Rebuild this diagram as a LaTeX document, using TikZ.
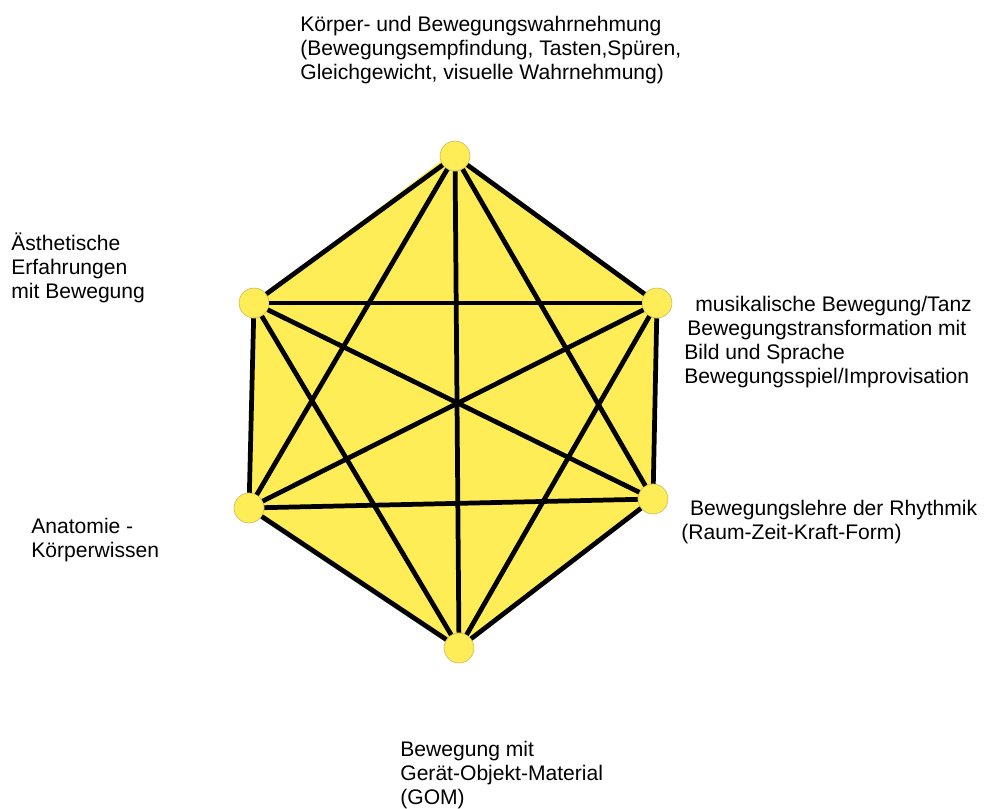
\documentclass[tikz,border=0pt]{standalone}
\usepackage{fontspec}
\setmainfont{Liberation Sans}
\usepackage{tikz}
\usetikzlibrary{backgrounds}
\definecolor{hexyellow}{RGB}{255,237,87}
\definecolor{dotrim}{RGB}{205,192,95}
\tikzstyle{vertex}=[circle, fill=hexyellow, draw=dotrim, line width=0.4pt, inner sep=0pt, minimum size=17pt]
\tikzstyle{edge}=[line width=2.7pt]
\tikzstyle{lbl}=[anchor=base west, inner sep=0pt, align=left, font=\fontsize{12}{13.6}\selectfont]

\begin{document}
\begin{tikzpicture}[x=0.02cm, y=-0.02cm]
        \useasboundingbox (0,0) rectangle (986,808);
        \node[vertex] (P1) at (455,156) {};
        \node[vertex] (P2) at (657,303) {};
        \node[vertex] (P3) at (653,499) {};
        \node[vertex] (P4) at (459,648) {};
        \node[vertex] (P5) at (249,508) {};
        \node[vertex] (P6) at (254,303) {};
        \begin{pgfonlayer}{background}
            \fill[hexyellow] (P1.center) ++(-2,-4) -- (P2.center) -- (P3.center) -- (P4.center) -- (P5.center) -- (P6.center) ++(-4,-3) -- cycle;
        \end{pgfonlayer}
        % outline
        \draw[edge] (P1) -- (P2);
        \draw[edge] (P2) -- (P3);
        \draw[edge] (P3) -- (P4);
        \draw[edge] (P4) -- (P5);
        \draw[edge] (P5) -- (P6);
        \draw[edge] (P6) -- (P1);
        % diagonals
        \draw[edge] (P1) -- (P3);
        \draw[edge] (P1) -- (P4);
        \draw[edge] (P1) -- (P5);
        \draw[edge] (P2) -- (P4);
        \draw[edge] (P2) -- (P5);
        \draw[edge] (P2) -- (P6);
        \draw[edge] (P3) -- (P5);
        \draw[edge] (P3) -- (P6);
        \draw[edge] (P4) -- (P6);
        % labels (anchored at the last line)
        \node[lbl] (koerper) at (300,79) {Körper- und Bewegungswahrnehmung\\(Bewegungsempfindung, Tasten,Spüren,\\Gleichgewicht, visuelle Wahrnehmung)};
        \node[lbl] (musik) at (684,383) {\hspace*{6.2pt}musikalische Bewegung/Tanz\\\hspace*{1.7pt}Bewegungstransformation mit\\Bild und Sprache\\Bewegungsspiel/Improvisation};
        \node[lbl] (rhythmik) at (681,539) {\hspace*{5pt}Bewegungslehre der Rhythmik\\(Raum-Zeit-Kraft-Form)};
        \node[lbl] (gom) at (400,804) {Bewegung mit\\Gerät-Objekt-Material\\(GOM)};
        \node[lbl] (aesth) at (11,298) {Ästhetische\\Erfahrungen\\mit Bewegung};
        \node[lbl] (anatomie) at (31,557) {Anatomie -\\Körperwissen};
    \end{tikzpicture}
\end{document}
